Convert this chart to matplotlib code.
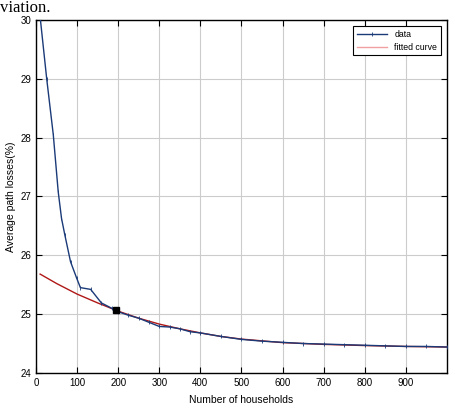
import matplotlib
matplotlib.use("Agg")
import matplotlib.pyplot as plt

# data series
data_x = [10, 26, 42, 54, 62, 70, 84, 99, 108, 133, 159, 184, 200, 225, 250, 275, 300,
          325, 350, 375, 400, 450, 500, 550, 600, 650, 700, 750, 800, 850, 900, 950, 1000]
data_y = [30.05, 29.0, 28.05, 27.08, 26.63, 26.35, 25.89, 25.61, 25.45, 25.42, 25.19,
          25.10, 25.04, 24.98, 24.93, 24.86, 24.79, 24.78, 24.75, 24.70, 24.68, 24.62,
          24.57, 24.54, 24.52, 24.50, 24.49, 24.48, 24.47, 24.46, 24.45, 24.45, 24.44]

fit_x = [10, 50, 100, 150, 200, 250, 300, 350, 400, 450, 500, 600, 700, 800, 900, 1000]
fit_y = [25.68, 25.52, 25.34, 25.19, 25.05, 24.93, 24.83, 24.75, 24.68, 24.62, 24.575,
         24.515, 24.485, 24.465, 24.45, 24.44]

marker_x = [194]
marker_y = [25.07]

x_ticks = [0, 100, 200, 300, 400, 500, 600, 700, 800, 900]
y_ticks = [24, 25, 26, 27, 28, 29, 30]

plt.rcParams['font.family'] = ['Liberation Sans', 'DejaVu Sans']

fig = plt.figure(figsize=(4.56, 4.08), dpi=100)
ax = fig.add_axes([0.079, 0.086, 0.901, 0.865])

ax.plot(fit_x, fit_y, color='#b01818', lw=1.0, label='fitted curve', zorder=3)
ax.plot(data_x, data_y, color='#1a3a78', lw=1.0, marker='|', ms=2.5, mew=0.6,
        label='data', zorder=4)
ax.plot(marker_x, marker_y, 's', color='black', ms=5, zorder=5)

ax.set_xlim(0, 1000)
ax.set_ylim(24, 30)
ax.set_xticks(x_ticks)
ax.set_yticks(y_ticks)
ax.grid(True, color='#cccccc', lw=0.8)
ax.tick_params(direction='in', top=True, right=True, labelsize=7, length=4, width=0.8)
for s in ax.spines.values():
    s.set_linewidth(1.0)
ax.set_xlabel('Number of households', fontsize=7.5, labelpad=5)
ax.set_ylabel('Average path losses(%)', fontsize=7.5, labelpad=3)

h, l = ax.get_legend_handles_labels()
leg = ax.legend([h[1], h[0]], [l[1], l[0]], loc='upper right', fontsize=6.3,
                fancybox=False, edgecolor='black', framealpha=1,
                borderaxespad=0.7, handlelength=3.5, markerscale=1)
leg.get_frame().set_linewidth(0.8)
leg.legend_handles[1].set_color('#f0a0a0')

fig.text(0.0, 1 - 11.5 / 408, 'viation.', family='Liberation Serif', fontsize=12,
         va='baseline', ha='left')

fig.savefig('out.png', dpi=100)
